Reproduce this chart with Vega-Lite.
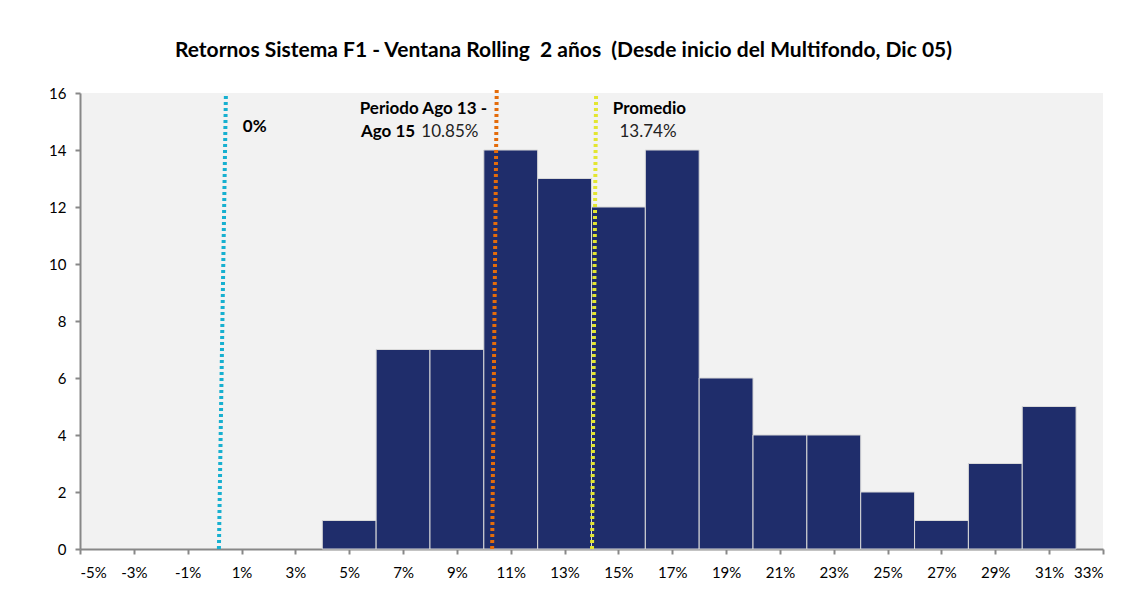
{
  "$schema": "https://vega.github.io/schema/vega-lite/v6.json",
  "autosize": "none",
  "width": 1023,
  "height": 456,
  "padding": {"left": 80, "top": 93, "right": 40, "bottom": 49},
  "background": "white",
  "config": {
    "view": {"fill": "#F2F2F2", "stroke": null},
    "font": "Lato"
  },
  "title": {
    "text": "Retornos Sistema F1 - Ventana Rolling \u00a02 años \u00a0(Desde inicio del Multifondo, Dic 05)",
    "font": "Lato",
    "fontSize": 21,
    "fontWeight": "bold",
    "color": "#000000",
    "anchor": "middle",
    "dx": -28,
    "offset": 24
  },
  "datasets": {
    "bins": [
      {"start": 4, "end": 6, "count": 1},
      {"start": 6, "end": 8, "count": 7},
      {"start": 8, "end": 10, "count": 7},
      {"start": 10, "end": 12, "count": 14},
      {"start": 12, "end": 14, "count": 13},
      {"start": 14, "end": 16, "count": 12},
      {"start": 16, "end": 18, "count": 14},
      {"start": 18, "end": 20, "count": 6},
      {"start": 20, "end": 22, "count": 4},
      {"start": 22, "end": 24, "count": 4},
      {"start": 24, "end": 26, "count": 2},
      {"start": 26, "end": 28, "count": 1},
      {"start": 28, "end": 30, "count": 3},
      {"start": 30, "end": 32, "count": 5}
    ],
    "lines": [
      {"name": "0%", "xb": 0.16, "xt": 0.42, "yb": 0, "yt": 16},
      {"name": "Periodo", "xb": 10.31, "xt": 10.48, "yb": 0, "yt": 16.2},
      {"name": "Promedio", "xb": 14.02, "xt": 14.17, "yb": 0, "yt": 16}
    ],
    "boldLeft": [
      {"label": "0%", "x": 1.05, "y": 14.8}
    ],
    "boldRight": [
      {"label": "Periodo Ago 13 -", "x": 10.12, "y": 15.45},
      {"label": "Ago 15", "x": 7.45, "y": 14.62}
    ],
    "boldCenter": [
      {"label": "Promedio", "x": 16.15, "y": 15.45}
    ],
    "normalRight": [
      {"label": "10.85%", "x": 9.8, "y": 14.62}
    ],
    "normalCenter": [
      {"label": "13.74%", "x": 16.1, "y": 14.62}
    ]
  },
  "layer": [
    {
      "data": {"name": "bins"},
      "mark": {"type": "rect", "color": "#1F2D6B", "stroke": "#D9D9D9", "strokeWidth": 1},
      "encoding": {
        "x": {
          "field": "start", "type": "quantitative",
          "scale": {"domain": [-5, 33], "nice": false, "zero": false},
          "axis": {
            "values": [-5, -3, -1, 1, 3, 5, 7, 9, 11, 13, 15, 17, 19, 21, 23, 25, 27, 29, 31, 33],
            "labelExpr": "datum.value + '%'",
            "title": null,
            "grid": false,
            "domainColor": "#888888",
            "domainWidth": 2,
            "tickColor": "#888888",
            "tickWidth": 2,
            "tickSize": 5,
            "labelFontSize": 15,
            "labelColor": "#000000",
            "labelFont": "Lato",
            "labelPadding": 11
          }
        },
        "x2": {"field": "end"},
        "y": {
          "field": "count", "type": "quantitative",
          "scale": {"domain": [0, 16], "nice": false},
          "axis": {
            "values": [0, 2, 4, 6, 8, 10, 12, 14, 16],
            "title": null,
            "grid": false,
            "domainColor": "#888888",
            "domainWidth": 2,
            "tickColor": "#888888",
            "tickWidth": 2,
            "tickSize": 5,
            "labelFontSize": 15,
            "labelColor": "#000000",
            "labelFont": "Lato",
            "labelPadding": 9
          }
        },
        "y2": {"datum": 0}
      }
    },
    {
      "data": {"name": "lines"},
      "mark": {"type": "rule", "strokeWidth": 4, "strokeDash": [3, 3], "clip": false},
      "encoding": {
        "x": {"field": "xb", "type": "quantitative"},
        "x2": {"field": "xt"},
        "y": {"field": "yb", "type": "quantitative"},
        "y2": {"field": "yt"},
        "color": {
          "field": "name", "type": "nominal",
          "scale": {"domain": ["0%", "Periodo", "Promedio"], "range": ["#17B0D0", "#E46C0A", "#E3E630"]},
          "legend": null
        }
      }
    },
    {
      "data": {"name": "boldLeft"},
      "mark": {"type": "text", "fontWeight": "bold", "fontSize": 17, "color": "#000000", "baseline": "middle", "align": "left"},
      "encoding": {
        "x": {"field": "x", "type": "quantitative"},
        "y": {"field": "y", "type": "quantitative"},
        "text": {"field": "label"}
      }
    },
    {
      "data": {"name": "boldRight"},
      "mark": {"type": "text", "fontWeight": "bold", "fontSize": 17, "color": "#000000", "baseline": "middle", "align": "right"},
      "encoding": {
        "x": {"field": "x", "type": "quantitative"},
        "y": {"field": "y", "type": "quantitative"},
        "text": {"field": "label"}
      }
    },
    {
      "data": {"name": "boldCenter"},
      "mark": {"type": "text", "fontWeight": "bold", "fontSize": 17, "color": "#000000", "baseline": "middle", "align": "center"},
      "encoding": {
        "x": {"field": "x", "type": "quantitative"},
        "y": {"field": "y", "type": "quantitative"},
        "text": {"field": "label"}
      }
    },
    {
      "data": {"name": "normalRight"},
      "mark": {"type": "text", "fontSize": 17, "color": "#222222", "baseline": "middle", "align": "right"},
      "encoding": {
        "x": {"field": "x", "type": "quantitative"},
        "y": {"field": "y", "type": "quantitative"},
        "text": {"field": "label"}
      }
    },
    {
      "data": {"name": "normalCenter"},
      "mark": {"type": "text", "fontSize": 17, "color": "#222222", "baseline": "middle", "align": "center"},
      "encoding": {
        "x": {"field": "x", "type": "quantitative"},
        "y": {"field": "y", "type": "quantitative"},
        "text": {"field": "label"}
      }
    }
  ]
}
